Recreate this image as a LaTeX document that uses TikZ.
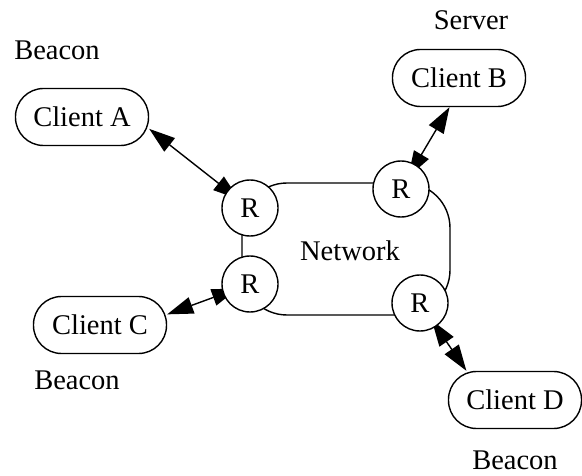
\documentclass[tikz,border=0pt]{standalone}
\usepackage{fontspec}
\setmainfont{Liberation Serif}
\usetikzlibrary{arrows.meta,backgrounds}
\begin{document}
\begin{tikzpicture}[x=1pt,y=-1pt,
  every node/.style={font=\fontsize{28.5}{34}\selectfont},
  client/.style={draw, line width=1.4pt, rounded corners=28pt, minimum width=133pt,
    minimum height=57pt, inner sep=0pt, fill=white},
  router/.style={draw, circle, line width=1.4pt, minimum size=56pt, inner sep=0pt, fill=white},
  role/.style={inner sep=0pt},
  tipend/.tip={Triangle[length=26pt,width=17pt]},
  link/.style={line width=1.4pt, tipend-tipend},
]
\useasboundingbox (0,0) rectangle (582,476);

% the network cloud joining the four routers
\draw[line width=1.4pt, rounded corners=45pt] (242,183) rectangle (450,315);
\node (net) at (350,251) {Network};

% routers
\node[router] (r1) at (250,208) {R};
\node[router] (r2) at (401,189) {R};
\node[router] (r3) at (250,284) {R};
\node[router] (r4) at (420,303) {R};

% clients and their roles
\node[client] (ca) at (82,117) {Client A};
\node[client] (cb) at (459,78) {Client B};
\node[client] (cc) at (100,325) {Client C};
\node[client] (cd) at (515,400) {Client D};

\node[role] (la) at (57,50.5) {Beacon};
\node[role] (lb) at (471,20) {Server};
\node[role] (lc) at (77,380) {Beacon};
\node[role] (ld) at (515,460) {Beacon};

% links, kept behind the routers
\begin{pgfonlayer}{background}
\draw[link, shorten >=14pt] (ca.-10) -- (r1.center);
\draw[link, shorten >=14pt] (cb.-108) -- (r2.center);
\draw[link, shorten >=13pt] (cc.9) -- (r3.center);
\draw[link, shorten >=21pt] (cd.149) -- (r4.center);
\end{pgfonlayer}
\end{tikzpicture}
\end{document}
